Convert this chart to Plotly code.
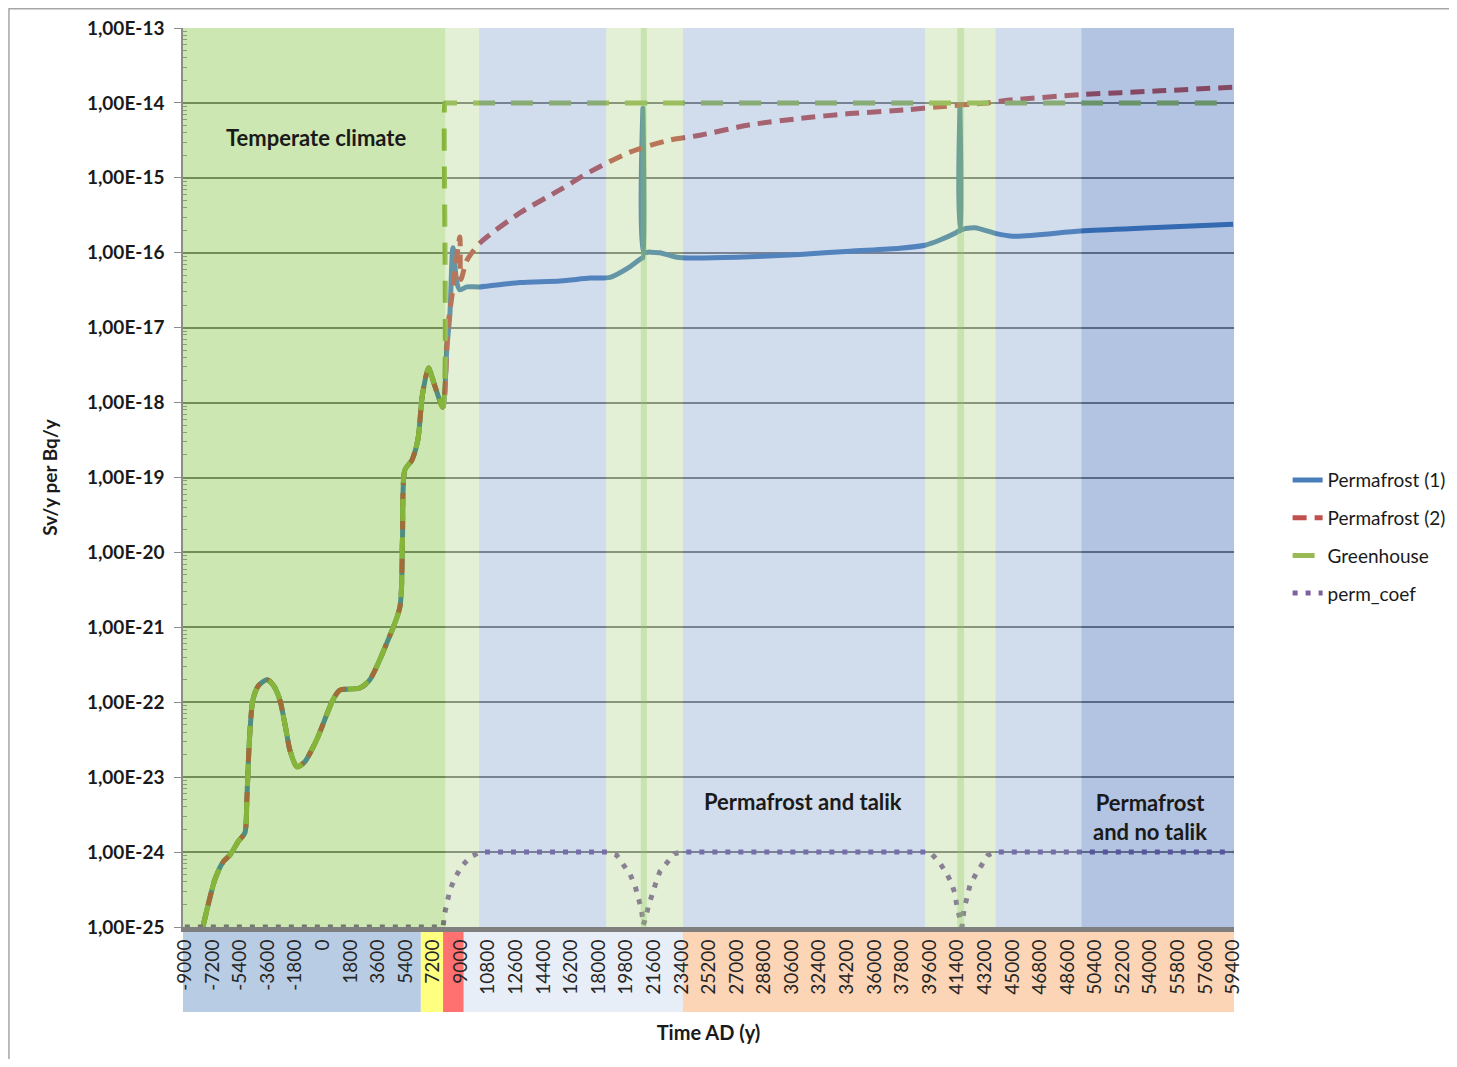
import plotly.graph_objects as go

# ---------------- data ----------------
common_years = [-7825, -7400, -7042, -6500, -6063, -5500, -5084, -4954, -4850, -4758,
                -4562, -4200, -3649, -3200, -2800, -2400, -2148, -1691, -1200, -386,
                658, 1115, 2420, 3073, 4183, 5031, 5200, 5357, 5814, 6206,
                6500, 6900, 7300, 7837]
common_vals = [1.0e-25, 2.3e-25, 4.3e-25, 7.4e-25, 9.1e-25, 1.4e-24, 1.8e-24, 5.0e-24, 1.7e-23, 3.9e-23,
               1.07e-22, 1.66e-22, 2.0e-22, 1.66e-22, 1.07e-22, 4.3e-23, 2.3e-23, 1.38e-23, 1.58e-23, 3.2e-23,
               1.07e-22, 1.45e-22, 1.55e-22, 2.0e-22, 6.2e-22, 1.86e-21, 1.48e-20, 1.26e-19, 1.7e-19, 3.2e-19,
               1.26e-18, 2.9e-18, 1.7e-18, 8.7e-19]

p1_years = [8098, 8294, 8490, 8750, 8946, 9403, 10252, 12862, 15500, 17430,
            18736, 20041, 20824, 20889, 20889, 20950, 21346, 21999, 23108, 23956,
            27000, 31135, 34400, 37661, 39293, 40272, 41251, 41500, 41577, 41577,
            41640, 41904, 42557, 43863, 45037, 49475, 54000, 59400]
p1_vals = [5.4e-18, 1.5e-17, 1.17e-16, 4.0e-17, 3.2e-17, 3.5e-17, 3.5e-17, 4.0e-17, 4.2e-17, 4.6e-17,
           4.7e-17, 6.5e-17, 8.5e-17, 8.5e-17, 8.5e-15, 1.02e-16, 1.02e-16, 1.0e-16, 8.7e-17, 8.5e-17,
           8.7e-17, 9.5e-17, 1.05e-16, 1.15e-16, 1.26e-16, 1.48e-16, 1.82e-16, 1.95e-16, 1.95e-16, 8.5e-15,
           2.05e-16, 2.1e-16, 2.15e-16, 1.82e-16, 1.66e-16, 1.95e-16, 2.15e-16, 2.4e-16]

p2_years = [8163, 8424, 8946, 9011, 9403, 10252, 12862, 15472, 17430, 20041,
            22651, 24609, 27872, 31135, 34398, 38117, 40272, 43340, 45037, 49475,
            54630, 59400]
p2_vals = [1.02e-17, 2.6e-17, 1.62e-16, 4.4e-17, 7.9e-17, 1.35e-16, 3.4e-16, 6.9e-16, 1.2e-15, 2.2e-15,
           3.2e-15, 3.7e-15, 5.1e-15, 6.2e-15, 7.2e-15, 8.1e-15, 8.9e-15, 1.0e-14, 1.1e-14, 1.29e-14,
           1.45e-14, 1.62e-14]

gh_years = [7967, 7990, 10252, 18000, 23400, 30600, 39600, 43200, 50400, 59400]
gh_vals = [1.0e-14, 1.0e-14, 1.0e-14, 1.0e-14, 1.0e-14, 1.0e-14, 1.0e-14, 1.0e-14, 1.0e-14, 1.0e-14]

pc_years = [-9000, 7850, 7967, 8098, 8294, 8620, 9077, 9599, 10252, 18600,
            19173, 19608, 20041, 20369, 20586, 20803, 20911, 21020, 21237, 21455,
            21738, 21999, 22477, 22934, 23400, 39620, 40207, 40664, 40990, 41251,
            41382, 41577, 41708, 41838, 42034, 42230, 42622, 43013, 43405, 43863,
            59400]
pc_vals = [1.0e-25, 1.0e-25, 1.55e-25, 2.1e-25, 3.1e-25, 4.5e-25, 6.5e-25, 8.5e-25, 1.0e-24, 1.0e-24,
           9.1e-25, 6.8e-25, 5.1e-25, 3.6e-25, 2.5e-25, 1.7e-25, 1.07e-25, 1.23e-25, 1.86e-25, 2.7e-25,
           3.9e-25, 5.5e-25, 7.4e-25, 9.5e-25, 1.0e-24, 1.0e-24, 7.4e-25, 5.4e-25, 4.0e-25, 2.8e-25,
           1.9e-25, 1.32e-25, 1.0e-25, 1.7e-25, 2.5e-25, 3.6e-25, 5.1e-25, 6.9e-25, 9.1e-25, 1.0e-24,
           1.0e-24]

x_tick_years = list(range(-9000, 59401, 1800))
x_tick_labels = [str(v) for v in x_tick_years]
y_tick_exps = list(range(-25, -12))
y_tick_labels = ["1,00E%d" % e for e in y_tick_exps]

# climate periods (overlay bands) and the coloured strip under the axis
band_edges = [(-9120, 8000, "rgb(88,175,0)"),
              (8000, 10200, "rgb(165,205,118)"),
              (10200, 18500, "rgb(102,142,195)"),
              (18500, 23500, "rgb(165,205,118)"),
              (20750, 21150, "rgb(140,200,90)"),
              (23500, 39300, "rgb(102,142,195)"),
              (39300, 43900, "rgb(165,205,118)"),
              (41400, 41850, "rgb(140,200,90)"),
              (43900, 49500, "rgb(102,142,195)"),
              (49500, 59460, "rgb(0,59,155)")]
strip_edges = [(-9120, 6400, "#b8cce4"),
               (6400, 7850, "#ffff80"),
               (7850, 9200, "#ff7070"),
               (9200, 23500, "#e8eef7"),
               (23500, 59460, "#fbd5b5")]

FONT = "Lato"
BLUE = "#4a7ebb"
RED = "#c0504d"
GREEN = "#98b954"
PURPLE = "#7d60a0"
SMOOTH = dict(shape="spline", smoothing=0.7)

fig = go.Figure()
fig.add_trace(go.Scatter(x=common_years + p1_years, y=common_vals + p1_vals, mode="lines",
                         name="Permafrost (1)", legendgroup="a",
                         line=dict(color=BLUE, width=5, **SMOOTH)))
fig.add_trace(go.Scatter(x=common_years + p2_years, y=common_vals + p2_vals, mode="lines",
                         name="Permafrost (2)", legendgroup="b",
                         line=dict(color=RED, width=5, dash="14px,8px", **SMOOTH)))
fig.add_trace(go.Scatter(x=common_years + gh_years, y=common_vals + gh_vals, mode="lines",
                         name="Greenhouse", legendgroup="c",
                         line=dict(color=GREEN, width=5, dash="22px,16px", **SMOOTH)))
fig.add_trace(go.Scatter(x=pc_years, y=pc_vals, mode="lines",
                         name="perm_coef", legendgroup="d",
                         line=dict(color=PURPLE, width=5, dash="5px,8px")))

shapes = []
for x0, x1, col in band_edges:
    shapes.append(dict(type="rect", xref="x", yref="paper", x0=x0, x1=x1, y0=0, y1=1,
                       fillcolor=col, opacity=0.3, line=dict(width=0), layer="above"))
for x0, x1, col in strip_edges:
    shapes.append(dict(type="rect", xref="x", yref="paper", x0=x0, x1=x1, y0=-0.0945, y1=-0.004,
                       fillcolor=col, line=dict(width=0), layer="below"))
# outer chart border (left and top edges visible)
shapes.append(dict(type="rect", xref="paper", yref="paper", x0=-0.1656, x1=1.25,
                   y0=-0.2, y1=1.0214, line=dict(color="#a6a6a6", width=1.5),
                   fillcolor="rgba(0,0,0,0)", layer="below"))

ann_font = dict(family=FONT, size=22, color="#1a1a1a")
annotations = [
    dict(x=-451, y=-14.455, xref="x", yref="y", text="<b>Temperate climate</b>", showarrow=False,
         font=ann_font),
    dict(x=31330, y=-23.33, xref="x", yref="y", text="<b>Permafrost and talik</b>", showarrow=False,
         font=ann_font),
    dict(x=53976, y=-23.53, xref="x", yref="y", text="<b>Permafrost<br>and no talik</b>",
         showarrow=False, align="center", font=ann_font),
]

minor_vals = []
for e in range(-25, -13):
    for k in range(2, 10):
        minor_vals.append(k * 10.0 ** e)

# page body has an 8px margin: figure sized to fit the window without scrollbars,
# margins chosen so the plot area lands at page x 183-1234, y 28-927
fig.update_layout(
    width=1441, height=1051,
    margin=dict(l=175, r=215, t=20, b=132, autoexpand=False),
    paper_bgcolor="white", plot_bgcolor="white",
    font=dict(family=FONT, color="#1a1a1a"),
    shapes=shapes, annotations=annotations,
    legend=dict(xref="container", yref="container", x=0.888, y=0.497,
                xanchor="left", yanchor="middle",
                traceorder="grouped", tracegroupgap=10,
                font=dict(family=FONT, size=19, color="#1a1a1a"),
                bgcolor="rgba(0,0,0,0)"),
    xaxis=dict(range=[-9120, 59460], tickmode="array", tickvals=x_tick_years,
               ticktext=x_tick_labels, tickangle=-90, showgrid=False, zeroline=False,
               showline=True, linecolor="#7f7f7f", linewidth=5, ticks="",
               tickfont=dict(family=FONT, size=19, color="#262626"),
               title=dict(text="<b>Time AD (y)</b>", standoff=34,
                          font=dict(family=FONT, size=20, color="#1a1a1a")),
               automargin=False),
    yaxis=dict(type="log", range=[-25, -13], tickmode="array",
               tickvals=[10.0 ** e for e in y_tick_exps], ticktext=y_tick_labels,
               showgrid=True, gridcolor="#7f7f7f", gridwidth=1.5, zeroline=False,
               showline=True, linecolor="#8c8c8c", linewidth=1.5,
               ticks="outside", ticklen=7, tickcolor="#8c8c8c", ticklabelstandoff=6,
               minor=dict(tickmode="array", tickvals=minor_vals, ticks="inside",
                          ticklen=4, tickcolor="#9a9a9a", showgrid=False),
               tickfont=dict(family=FONT, size=19, color="#1a1a1a", weight="bold"),
               title=dict(text="<b>Sv/y per Bq/y</b>", standoff=24,
                          font=dict(family=FONT, size=19, color="#1a1a1a")),
               automargin=False),
)

fig.write_html("out.html")
